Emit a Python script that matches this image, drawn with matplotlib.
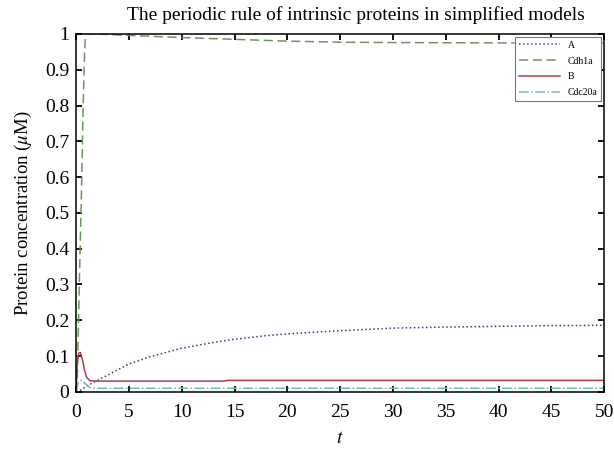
import matplotlib.pyplot as plt

# Data
t_A = [0, 0.5, 1, 2, 3, 5, 7, 10, 13, 15, 18, 20, 25, 30, 35, 40, 45, 50]
A = [0, 0.006, 0.016, 0.032, 0.047, 0.078, 0.098, 0.122, 0.138, 0.147, 0.157, 0.162, 0.171, 0.178, 0.181, 0.183, 0.185, 0.186]

t_cdh = [0, 0.1, 0.3, 0.5, 0.65, 0.8, 0.9, 2, 5, 10, 15, 20, 25, 30, 40, 50]
Cdh1a = [0, 0.02, 0.3, 0.55, 0.78, 0.95, 1.0, 1.0, 0.996, 0.99, 0.985, 0.98, 0.977, 0.976, 0.975, 0.975]

t_B = [0, 0.1, 0.25, 0.4, 0.6, 0.8, 1.0, 1.3, 2, 14, 14.3, 50]
B = [0.0, 0.08, 0.108, 0.11, 0.09, 0.06, 0.04, 0.031, 0.03, 0.03, 0.032, 0.032]

t_C = [0, 0.2, 0.5, 0.8, 1.1, 1.5, 50]
Cdc20a = [0, 0.025, 0.033, 0.025, 0.016, 0.01, 0.01]

plt.rcParams['font.family'] = ['Liberation Serif', 'DejaVu Serif']
plt.rcParams['mathtext.fontset'] = 'stix'

fig = plt.figure(figsize=(6.14, 4.53), dpi=100)
ax = fig.add_axes([0.124, 0.135, 0.86, 0.79])

ax.plot(t_A, A, color='#3c3c8c', linestyle=':', linewidth=1.1, label='A')
ax.plot(t_cdh, Cdh1a, color='#6f9460', linestyle=(0, (6, 3)), linewidth=1.1, label='Cdh1a')
ax.plot(t_B, B, color='#b13a4a', linestyle='-', linewidth=1.1, label='B')
ax.plot(t_C, Cdc20a, color='#6cbcbc', linestyle='-.', linewidth=1.1, label='Cdc20a')

ax.set_xlim(0, 50)
ax.set_ylim(0, 1)
ax.set_xticks(range(0, 51, 5))
ax.set_yticks([i / 10 for i in range(11)])
ax.set_yticklabels(['0', '0.1', '0.2', '0.3', '0.4', '0.5', '0.6', '0.7', '0.8', '0.9', '1'])
ax.tick_params(direction='in', length=4, width=1.3, top=True, right=True, labelsize=14)
ax.tick_params(axis='x', pad=9)
ax.tick_params(axis='y', pad=5)
for s in ax.spines.values():
    s.set_linewidth(1.1)

ax.set_title('The periodic rule of intrinsic proteins in simplified models', fontsize=14, pad=10, x=0.53)
ax.set_xlabel('$t$', fontsize=14, labelpad=6)
ax.set_ylabel(r'Protein concentration ($\mu$M)', fontsize=13.5, labelpad=8)

leg = ax.legend(loc='upper right', fontsize=7, fancybox=False, framealpha=1,
                edgecolor='#777777', borderaxespad=0.3, handlelength=4.2, labelspacing=0.7)
leg.get_frame().set_linewidth(0.8)

plt.savefig('out.png', dpi=100)
